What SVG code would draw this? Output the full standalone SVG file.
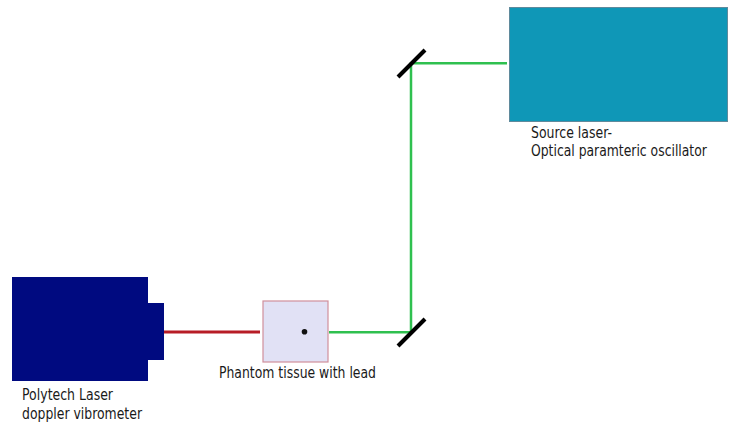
<svg xmlns="http://www.w3.org/2000/svg" width="731" height="424" viewBox="0 0 731 424">
<style>
text{font-family:"DejaVu Sans",sans-serif;font-size:15.500px;fill:#1a1a1a}
.navy{fill:#000a80}
.beam{fill:none;stroke-width:2.500}
.green{stroke:#2fc04f}
.red{stroke:#b71c26;stroke-width:3}
.mirror{stroke:#000;stroke-width:4;fill:none}
</style>
<rect width="731" height="424" fill="#fff"/>
<g id="connectors">
<line class="beam red" x1="164" y1="332" x2="260" y2="332"/>
<path class="beam green" d="M329 332.300H411V63.300H507"/>
</g>
<g id="vibrometer">
<rect class="navy" x="12" y="277" width="136" height="104"/>
<rect class="navy" x="148" y="303" width="16" height="57"/>
<text x="22" y="400" textLength="91" lengthAdjust="spacingAndGlyphs">Polytech Laser</text>
<text x="22" y="419" textLength="120" lengthAdjust="spacingAndGlyphs">doppler vibrometer</text>
</g>
<g id="phantom">
<rect x="263" y="301" width="65" height="61" fill="#e1e1f5" stroke="#d08f9c" stroke-width="1.200"/>
<circle cx="304.500" cy="331.700" r="2.800" fill="#111"/>
<text x="219" y="378" textLength="157" lengthAdjust="spacingAndGlyphs">Phantom tissue with lead</text>
</g>
<g id="mirror-bottom"><line class="mirror" x1="398" y1="346" x2="425" y2="319"/></g>
<g id="mirror-top"><line class="mirror" x1="398" y1="77" x2="425" y2="50"/></g>
<g id="source-laser">
<rect x="509.500" y="7.500" width="218" height="114" fill="#0f97b7" stroke="#5f8a9c" stroke-width="1"/>
<text x="531" y="138" textLength="81" lengthAdjust="spacingAndGlyphs">Source laser-</text>
<text transform="translate(531 156) scale(.8 1)">Optical paramteric oscillator</text>
</g>
</svg>
